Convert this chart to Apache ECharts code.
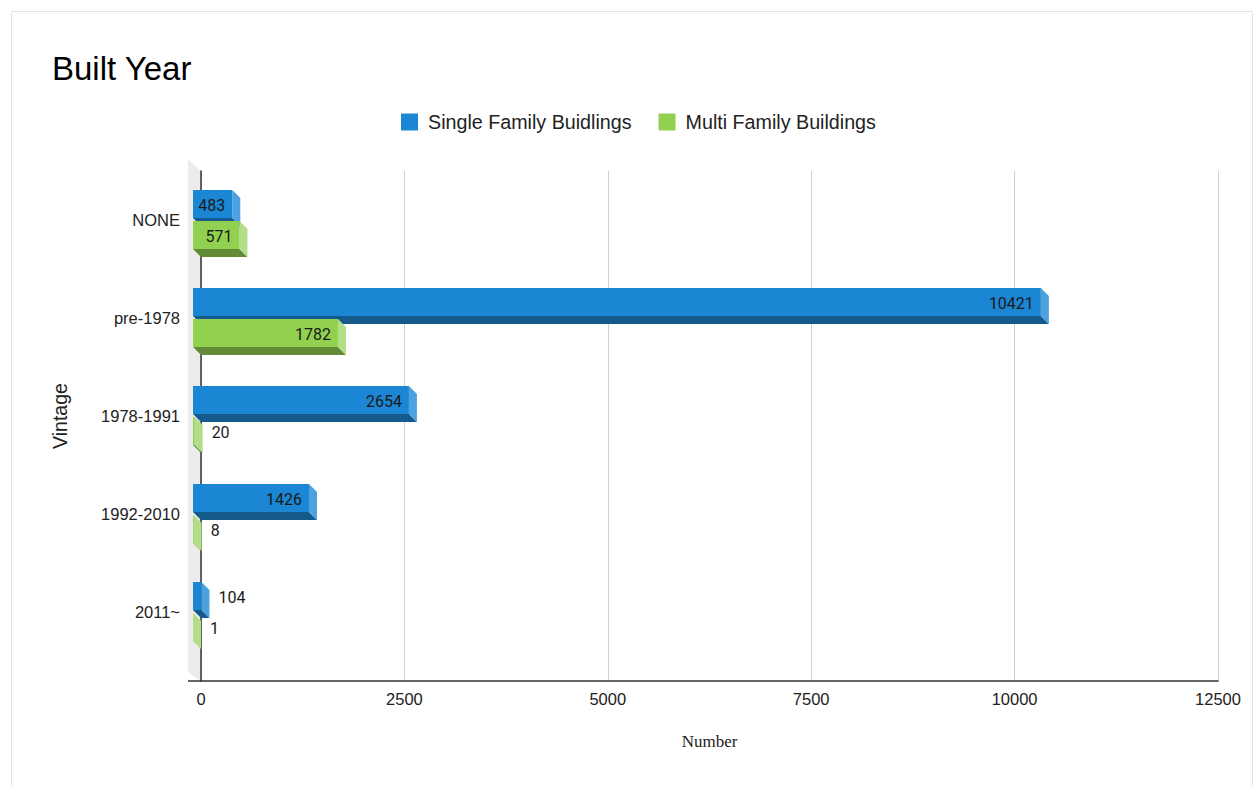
<!DOCTYPE html>
<html>
<head>
<meta charset="utf-8">
<script src="https://cdn.jsdelivr.net/npm/echarts@6/dist/echarts.min.js"></script>
<style>
html,body{margin:0;padding:0;background:#fff;}
#chart{width:1260px;height:786px;}
</style>
</head>
<body>
<div id="chart"></div>
<script>
// ---- data ----
const categories = ['NONE', 'pre-1978', '1978-1991', '1992-2010', '2011~'];
const singleFamily = [483, 10421, 2654, 1426, 104];
const multiFamily = [571, 1782, 20, 8, 1];
const seriesNames = ['Single Family Buidlings', 'Multi Family Buildings'];
const xMin = 0, xMax = 12500, xInterval = 2500;

// ---- styles ----
const palette = [
  { front: '#1a86d4', bottom: '#155a8d', side: '#4da1df' },
  { front: '#92d150', bottom: '#628a37', side: '#b1de87' }
];
const DEPTH = 8;

function makeRender(seriesIdx) {
  return function (params, api) {
    const val = api.value(0);
    const idx = api.value(1);
    const p0 = api.coord([0, idx]);
    const p1 = api.coord([val, idx]);
    const band = api.size([0, 1])[1];
    const center = p0[1];
    const x0 = p0[0], x1 = p1[0];
    const h = band * 28 / 98;
    const yb = seriesIdx === 0 ? center - band * 22 / 98 : center + band * 9 / 98;
    const d = DEPTH;
    const c = palette[seriesIdx];
    const fy = yb - d;
    const children = [
      { type: 'polygon', shape: { points: [[x0 - d, fy + h], [x1 - d, fy + h], [x1, yb + h], [x0, yb + h]] }, style: { fill: c.bottom } },
      { type: 'polygon', shape: { points: [[x1 - d, fy], [x1, yb], [x1, yb + h], [x1 - d, fy + h]] }, style: { fill: c.side } },
      { type: 'rect', shape: { x: x0 - d, y: fy, width: Math.max(x1 - x0, 0), height: h }, style: { fill: c.front } }
    ];
    const txt = String(val);
    const tw = txt.length * 9 + 10;
    const frontW = x1 - x0;
    const inside = frontW > tw;
    children.push({
      type: 'text',
      style: {
        text: txt,
        x: inside ? x1 - d - 7 : x1 + 9,
        y: fy + h / 2 + 1,
        align: inside ? 'right' : 'left',
        verticalAlign: 'middle',
        fontFamily: 'Roboto',
        fontSize: 16,
        fill: '#1a1a1a'
      }
    });
    return { type: 'group', children };
  };
}

const chart = echarts.init(document.getElementById('chart'), null, { renderer: 'svg' });
chart.setOption({
  backgroundColor: '#fff',
  animation: false,
  title: {
    text: 'Built Year', left: 47, top: 47,
    textStyle: { fontFamily: 'Liberation Sans', fontSize: 33, fontWeight: 'normal', color: '#000' }
  },
  legend: {
    data: seriesNames, left: 396, top: 107,
    icon: 'rect', itemWidth: 17, itemHeight: 17, itemGap: 27,
    textStyle: { fontFamily: 'Liberation Sans', fontSize: 19.7, color: '#222', padding: [0, 0, 0, 5] }
  },
  graphic: [
    { type: 'rect', left: 9, top: 9, shape: { width: 1241, height: 775 }, style: { fill: 'none', stroke: '#e4e4e4', lineWidth: 1 }, silent: true }
  ],
  grid: [
    { left: 201, right: 42, top: 171, height: 510 },
    { left: 201, right: 42, top: 171, height: 490 }
  ],
  xAxis: [
    {
      gridIndex: 0, type: 'value', min: xMin, max: xMax, interval: xInterval,
      axisLine: { show: true, lineStyle: { color: '#333', width: 1.5 } },
      axisTick: { show: false },
      splitLine: { show: true, lineStyle: { color: '#cfcfcf', width: 1 } },
      axisLabel: { fontFamily: 'Liberation Sans', fontSize: 16.5, color: '#222', margin: 9, formatter: function (v) { return String(v); } },
      name: 'Number', nameLocation: 'middle', nameGap: 52,
      nameTextStyle: { fontFamily: 'Liberation Serif', fontSize: 17, color: '#222' }
    },
    { gridIndex: 1, type: 'value', min: xMin, max: xMax, interval: xInterval, show: false }
  ],
  yAxis: [
    {
      gridIndex: 0, type: 'value', min: 0, max: 1,
      axisLine: { show: true, lineStyle: { color: '#333', width: 1.5 } },
      axisTick: { show: false }, axisLabel: { show: false }, splitLine: { show: false }
    },
    {
      gridIndex: 1, type: 'category', data: categories, inverse: true,
      axisLine: { show: false }, axisTick: { show: false }, splitLine: { show: false },
      axisLabel: { fontFamily: 'Liberation Sans', fontSize: 16.5, color: '#222', margin: 21 },
      name: 'Vintage', nameLocation: 'middle', nameGap: 131,
      nameTextStyle: { fontFamily: 'Liberation Sans', fontSize: 19.5, color: '#222' }
    }
  ],
  series: [
    {
      type: 'custom', xAxisIndex: 0, yAxisIndex: 0, z: 0, silent: true,
      data: [[0, 0]],
      renderItem: function (params, api) {
        const cs = params.coordSys;
        const x0 = api.coord([0, 0])[0];
        const top = cs.y, bottom = cs.y + cs.height;
        const w = 13;
        return {
          type: 'group', children: [
            { type: 'polygon', shape: { points: [[x0 - w, top - 12], [x0 - 0.5, top], [x0 - 0.5, bottom], [x0 - w, bottom - 9]] }, style: { fill: '#ececec' } },
            { type: 'line', shape: { x1: x0 - w, y1: bottom, x2: x0, y2: bottom }, style: { stroke: '#333', lineWidth: 1.5 } }
          ]
        };
      }
    },
    {
      name: seriesNames[0], type: 'custom', xAxisIndex: 1, yAxisIndex: 1, z: 3,
      itemStyle: { color: palette[0].front },
      encode: { x: 0, y: 1 },
      data: singleFamily.map((v, i) => [v, i]),
      renderItem: makeRender(0)
    },
    {
      name: seriesNames[1], type: 'custom', xAxisIndex: 1, yAxisIndex: 1, z: 4,
      itemStyle: { color: palette[1].front },
      encode: { x: 0, y: 1 },
      data: multiFamily.map((v, i) => [v, i]),
      renderItem: makeRender(1)
    }
  ]
});
</script>
</body>
</html>
